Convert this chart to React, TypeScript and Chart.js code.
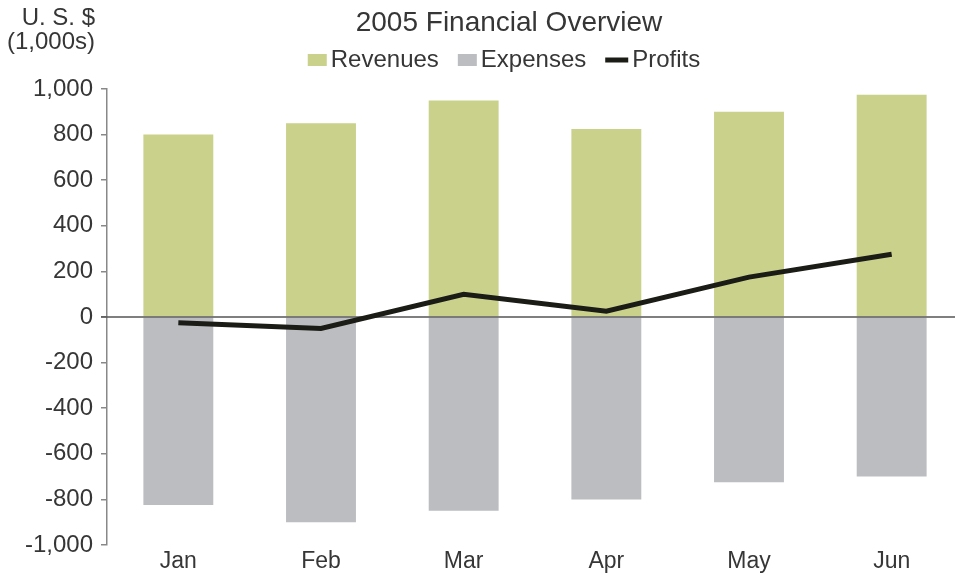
import React, { useEffect, useRef } from "react";
import { Chart, registerables } from "chart.js";

Chart.register(...registerables);

const months = ["Jan", "Feb", "Mar", "Apr", "May", "Jun"];
const revenues = [800, 850, 950, 825, 900, 975];
const expenses = [-825, -900, -850, -800, -725, -700];
const profits = [-25, -50, 100, 25, 175, 275];
const yMin = -1000;
const yMax = 1000;
const yStep = 200;
const chartTitle = "2005 Financial Overview";
const unitLines = ["U. S. $", "(1,000s)"];
const seriesNames = ["Revenues", "Expenses", "Profits"];

const FONT = "'Liberation Sans', Arial, Helvetica, sans-serif";
const TEXT = "#363636";

const headerPlugin = {
  id: "header",
  afterDraw(chart: any) {
    const ctx = chart.ctx;
    ctx.save();
    ctx.fillStyle = TEXT;
    ctx.textBaseline = "middle";

    // title
    ctx.font = `28px ${FONT}`;
    ctx.textAlign = "center";
    ctx.fillText(chartTitle, 509, 23);

    // unit label
    ctx.font = `24px ${FONT}`;
    ctx.textAlign = "right";
    ctx.fillText(unitLines[0], 95, 18);
    ctx.fillText(unitLines[1], 95, 42);

    // legend
    ctx.font = `24px ${FONT}`;
    const items = chart.data.datasets.map((ds: any) => ({
      label: ds.label,
      color: ds.type === "line" ? ds.borderColor : ds.backgroundColor,
      line: ds.type === "line",
    }));
    const markW = (it: any) => (it.line ? 23 : 19);
    const gap = 4;
    const spacing = 19;
    let total = 0;
    items.forEach((it: any, i: number) => {
      total += markW(it) + gap + ctx.measureText(it.label).width + (i ? spacing : 0);
    });
    let x = 504 - total / 2;
    const y = 60;
    items.forEach((it: any) => {
      ctx.fillStyle = it.color;
      if (it.line) ctx.fillRect(x, y - 2.5, 23, 5);
      else ctx.fillRect(x, y - 6, 19, 12);
      x += markW(it) + gap;
      ctx.fillStyle = TEXT;
      ctx.textAlign = "left";
      ctx.fillText(it.label, x, y);
      x += ctx.measureText(it.label).width + spacing;
    });
    ctx.restore();
  },
};

const zeroLinePlugin = {
  id: "zeroLine",
  beforeDatasetDraw(chart: any, args: any) {
    if (args.index !== 2) return;
    const ctx = chart.ctx;
    const y = chart.scales.y.getPixelForValue(0);
    ctx.save();
    ctx.strokeStyle = "#555";
    ctx.lineWidth = 1.5;
    ctx.beginPath();
    ctx.moveTo(chart.chartArea.left - 6, y);
    ctx.lineTo(chart.chartArea.right, y);
    ctx.stroke();
    ctx.restore();
  },
};

export default function App() {
  const ref = useRef<HTMLCanvasElement | null>(null);
  useEffect(() => {
    if (!ref.current) return;
    const chart = new Chart(ref.current, {
      type: "bar",
      data: {
        labels: months,
        datasets: [
          {
            type: "bar",
            label: seriesNames[0],
            data: revenues,
            backgroundColor: "#c9d18b",
            barPercentage: 0.49,
            categoryPercentage: 1,
            order: 1,
          },
          {
            type: "bar",
            label: seriesNames[1],
            data: expenses,
            backgroundColor: "#bbbdc0",
            barPercentage: 0.49,
            categoryPercentage: 1,
            order: 1,
          },
          {
            type: "line",
            label: seriesNames[2],
            data: profits,
            borderColor: "#1c1c16",
            backgroundColor: "#1c1c16",
            borderWidth: 5,
            pointRadius: 0,
            tension: 0,
            order: 0,
          },
        ] as any,
      },
      options: {
        animation: false,
        responsive: true,
        maintainAspectRatio: false,
        layout: { padding: { left: 0, top: 89, right: 0, bottom: 0 } },
        plugins: {
          legend: { display: false },
          tooltip: { enabled: false },
          title: { display: false },
        },
        scales: {
          x: {
            stacked: true,
            grid: { display: false, drawTicks: false },
            border: { display: false },
            ticks: { color: TEXT, font: { family: FONT, size: 23 }, padding: 3 },
            afterFit: (s: any) => {
              s.height = 29;
            },
          },
          y: {
            stacked: false,
            min: yMin,
            max: yMax,
            ticks: {
              stepSize: yStep,
              color: TEXT,
              font: { family: FONT, size: 24 },
              padding: 8,
              callback: (v: any) => Number(v).toLocaleString("en-US"),
            },
            grid: {
              drawOnChartArea: false,
              tickLength: 6,
              tickColor: "#888",
              lineWidth: 1.5,
            },
            border: { display: true, color: "#888", width: 1.5 },
            afterFit: (s: any) => {
              s.width = 107;
            },
          },
        },
      },
      plugins: [headerPlugin, zeroLinePlugin],
    });
    return () => chart.destroy();
  }, []);

  return (
    <div
      style={{
        position: "fixed",
        left: 0,
        top: 0,
        width: 955,
        height: 574,
        overflow: "hidden",
        background: "#fff",
      }}
    >
      <div style={{ position: "relative", width: 963, height: 574 }}>
        <canvas ref={ref} />
      </div>
    </div>
  );
}
